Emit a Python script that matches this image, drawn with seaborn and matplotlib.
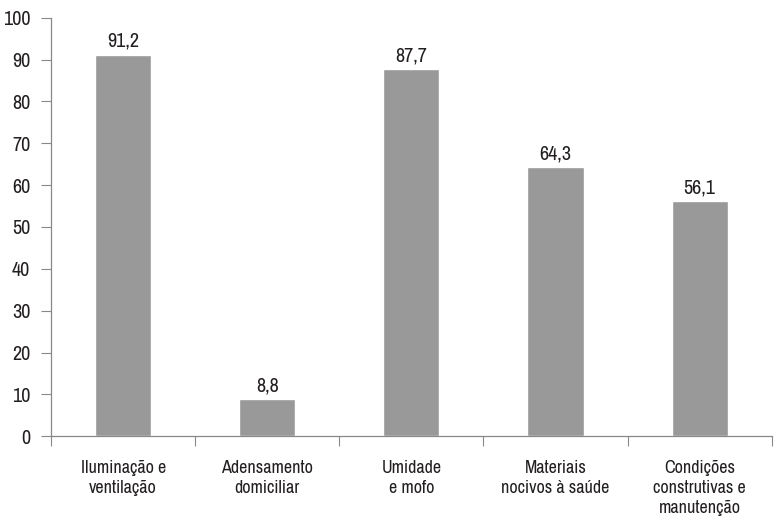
import matplotlib
matplotlib.use("Agg")
import matplotlib.pyplot as plt
import seaborn as sns
import pandas as pd
from matplotlib import font_manager

categories = ["Iluminação e\nventilação", "Adensamento\ndomiciliar", "Umidade\ne mofo",
              "Materiais\nnocivos à saúde", "Condições\nconstrutivas e\nmanutenção"]
values = [91.2, 8.8, 87.7, 64.3, 56.1]
labels = ["91,2", "8,8", "87,7", "64,3", "56,1"]
yticks = [0, 10, 20, 30, 40, 50, 60, 70, 80, 90, 100]

sns.set_theme(style="white")

# pick a condensed font if one is installed
cand = []
for f in font_manager.fontManager.ttflist:
    if f.style != "normal" or f.weight not in (400, "normal", "regular"):
        continue
    n = f.name
    if "Narrow" in n or "Condensed" in n:
        cand.append((0, f))
    elif str(f.stretch) in ("condensed", "semi-condensed"):
        cand.append((1, f))
    elif "condensed" in f.fname.lower():
        cand.append((2, f))
cand.sort(key=lambda t: (t[0], t[1].fname))
if cand:
    fp = font_manager.FontProperties(fname=cand[0][1].fname)
else:
    fp = font_manager.FontProperties(family="DejaVu Sans", stretch="condensed")
plt.rcParams["font.family"] = ["DejaVu Sans"]

df = pd.DataFrame({"cat": categories, "val": values})
fig = plt.figure(figsize=(7.74, 5.23), dpi=100)
ax = fig.add_axes([0.066, 0.166, 0.931, 0.800])
sns.barplot(data=df, x="cat", y="val", color="#999999", width=0.39, ax=ax, saturation=1)

fs_num = 14.5
fs_cat = 13
for i, (v, l) in enumerate(zip(values, labels)):
    ax.text(i, v + 0.9, l, ha="center", va="bottom", fontproperties=fp, fontsize=fs_num, color="#231f20")

ax.set_ylim(0, 100)
ax.set_xlim(-0.5, 4.5)
ax.set_yticks(yticks)
ax.set_xlabel("")
ax.set_ylabel("")
ax.tick_params(axis="y", labelcolor="#231f20", length=7, width=0.8,
               direction="out", left=True, color="#888888", pad=8)
ax.tick_params(axis="x", which="major", labelcolor="#231f20", length=0, pad=17)
ax.set_xticks([-0.5, 0.5, 1.5, 2.5, 3.5, 4.5], minor=True)
ax.tick_params(axis="x", which="minor", length=7, width=0.8, color="#888888", direction="out", bottom=True)
for lab in ax.get_yticklabels():
    lab.set_fontproperties(fp)
    lab.set_fontsize(fs_num)
for lab in ax.get_xticklabels():
    lab.set_fontproperties(fp)
    lab.set_fontsize(fs_cat)
    lab.set_linespacing(1.3)
for s in ["top", "right"]:
    ax.spines[s].set_visible(False)
for s in ["left", "bottom"]:
    ax.spines[s].set_color("#888888")
    ax.spines[s].set_linewidth(0.9)

fig.savefig("out.png", dpi=100)
